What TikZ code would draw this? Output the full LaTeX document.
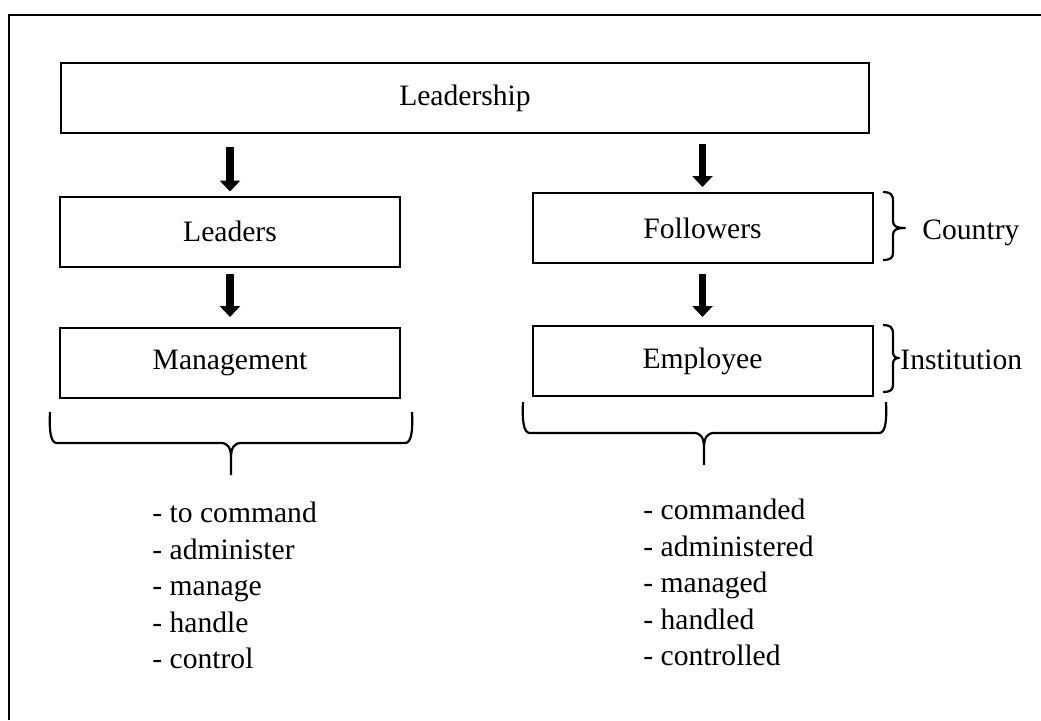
\documentclass[tikz,border=0pt]{standalone}
\usepackage{fontspec}
\setmainfont{Liberation Serif}
\usetikzlibrary{arrows.meta}

\tikzset{
  box/.style={draw, line width=1pt, minimum width=170pt, minimum height=35pt, inner sep=0pt},
  bigarrow/.style={line width=3.6pt, -{Triangle[width=10pt,length=5.5pt]}},
  curly/.style={line width=1.1pt, line join=round},
  verbs/.style={align=left, anchor=north west, inner sep=0pt},
  side/.style={anchor=base west, inner sep=0pt}
}

\begin{document}
\begin{tikzpicture}[x=0.5pt, y=-0.5pt, font=\fontsize{14.8}{18.25}\selectfont]
  \useasboundingbox (0,0) rectangle (1041,720);
  \draw[line width=1pt] (9,720) -- (9,15) -- (1041,15);

  % boxes
  \node[box, minimum width=404pt] (leadership) at (465,98) {Leadership};
  \node[box] (leaders) at (230,231.5) {Leaders};
  \node[box] (management) at (230,363) {Management};
  \node[box] (followers) at (702.5,228) {Followers};
  \node[box] (employee) at (702.5,361) {Employee};

  % arrows
  \draw[bigarrow, shorten <=6.5pt, shorten >=2pt] (leadership.south -| leaders.north) -- (leaders.north);
  \draw[bigarrow, shorten <=5pt, shorten >=2.5pt] (leadership.south -| followers.north) -- (followers.north);
  \draw[bigarrow, shorten <=3pt, shorten >=5pt] (leaders.south) -- (management.north);
  \draw[bigarrow, shorten <=5pt, shorten >=4pt] (followers.south) -- (employee.north);

  % braces on the right
  \draw[curly] (883,192) .. controls (890,192) and (893,194) .. (893,201) -- (893,221)
    .. controls (893,226) and (896,228) .. (905,228)
    .. controls (896,228) and (893,230) .. (893,235) -- (893,253)
    .. controls (893,258) and (890,260) .. (883,260);
  \draw[curly] (883,325) .. controls (890,325) and (893,327) .. (893,334) -- (893,352)
    .. controls (893,356) and (895,358) .. (899,358)
    .. controls (895,358) and (893,360) .. (893,364) -- (893,385)
    .. controls (893,390) and (890,392) .. (883,392);
  \node[side] (country) at (922,239) {Country};
  \node[side] (institution) at (900,369) {Institution};

  % braces below
  \draw[curly] (50,412) .. controls (49,433) and (51,443) .. (57,443) -- (221,443)
    .. controls (228,443) and (231,448) .. (231,458) -- (231,475)
    (231,458) .. controls (231,448) and (234,443) .. (241,443) -- (405,443)
    .. controls (411,443) and (413,433) .. (412,412);
  \draw[curly] (523,402) .. controls (522,423) and (524,433) .. (530,433) -- (694,433)
    .. controls (701,433) and (704,438) .. (704,448) -- (704,465)
    (704,448) .. controls (704,438) and (707,433) .. (714,433) -- (879,433)
    .. controls (885,433) and (887,423) .. (886,402);

  % lists
  \node[verbs] (leadverbs) at (152,502) {- to command\\- administer\\- manage\\- handle\\- control};
  \node[verbs] (followverbs) at (643,499) {- commanded\\- administered\\- managed\\- handled\\- controlled};
\end{tikzpicture}
\end{document}
